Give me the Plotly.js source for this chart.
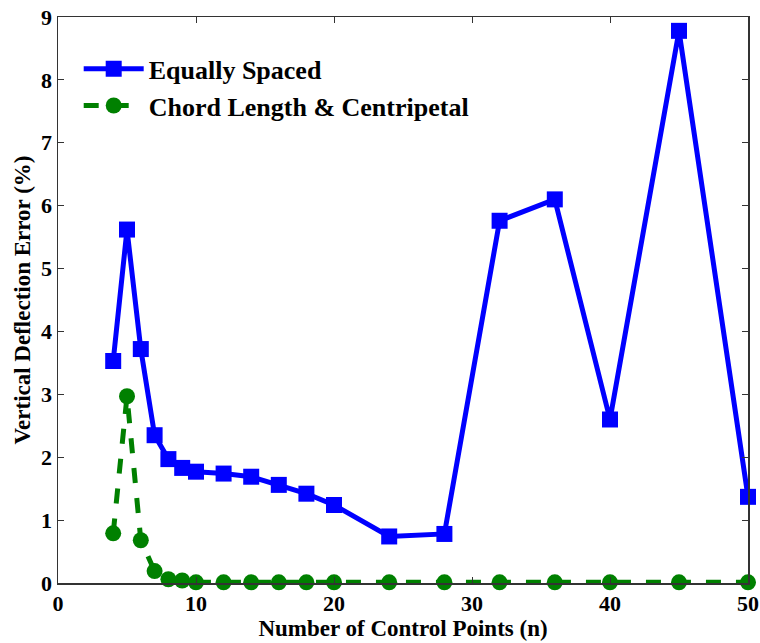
<!DOCTYPE html>
<html><head><meta charset="utf-8">
<script src="https://cdn.plot.ly/plotly-3.0.1.min.js"></script>
<style>body{margin:0;background:#fff}#c{width:760px;height:643px}</style>
</head><body><div id="c"></div>
<script>
const nPoints = [4,5,6,7,8,9,10,12,14,16,18,20,24,28,32,36,40,45,50];
const equallySpaced = [3.53,5.62,3.72,2.35,1.97,1.83,1.77,1.74,1.69,1.56,1.42,1.24,0.74,0.78,5.76,6.10,2.60,8.78,1.37];
const chordCentripetal = [0.79,2.97,0.68,0.19,0.06,0.04,0.01,0.01,0.01,0.01,0.01,0.01,0.01,0.01,0.01,0.01,0.01,0.01,0.01];
const xTicks = [0,10,20,30,40,50];
const yTicks = [0,1,2,3,4,5,6,7,8,9];
const fam = 'Times New Roman, Liberation Serif, serif';
const fnt = {family:fam, color:'#000', weight:'bold'};
const traces = [
  {x:nPoints, y:equallySpaced, name:'Equally Spaced', mode:'lines+markers',
   line:{color:'#0000ff', width:5}, marker:{symbol:'square', size:16, color:'#0000ff'}, cliponaxis:false},
  {x:nPoints, y:chordCentripetal, name:'Chord Length &amp; Centripetal', mode:'lines+markers',
   line:{color:'#008000', width:5, dash:'dash'}, marker:{symbol:'circle', size:16, color:'#008000'}, cliponaxis:false}
];
const axBase = {showgrid:false, zeroline:false, showline:true, linecolor:'#333', linewidth:1.5, mirror:'ticks',
  ticks:'inside', ticklen:6, tickcolor:'#333', tickfont:{family:fam, color:'#000', weight:'bold', size:22}};
const layout = {
  width:760, height:643, paper_bgcolor:'#fff', plot_bgcolor:'#fff',
  margin:{l:58, r:12, t:17, b:60},
  font:fnt, showlegend:true,
  legend:{x:0.03, y:0.95, xanchor:'left', yanchor:'top', bgcolor:'rgba(0,0,0,0)', borderwidth:0,
    font:{family:fam, color:'#000', weight:'bold', size:26}, itemwidth:60, tracegroupgap:0},
  xaxis:Object.assign({}, axBase, {range:[0,50], tickvals:xTicks,
    title:{text:'Number of Control Points (n)', font:{family:fam, color:'#000', weight:'bold', size:23}, standoff:2}}),
  yaxis:Object.assign({}, axBase, {range:[0,9], tickvals:yTicks,
    title:{text:'Vertical Deflection Error (%)', font:{family:fam, color:'#000', weight:'bold', size:23}, standoff:4}})
};
Plotly.newPlot('c', traces, layout, {displayModeBar:false, staticPlot:true});
</script></body></html>
